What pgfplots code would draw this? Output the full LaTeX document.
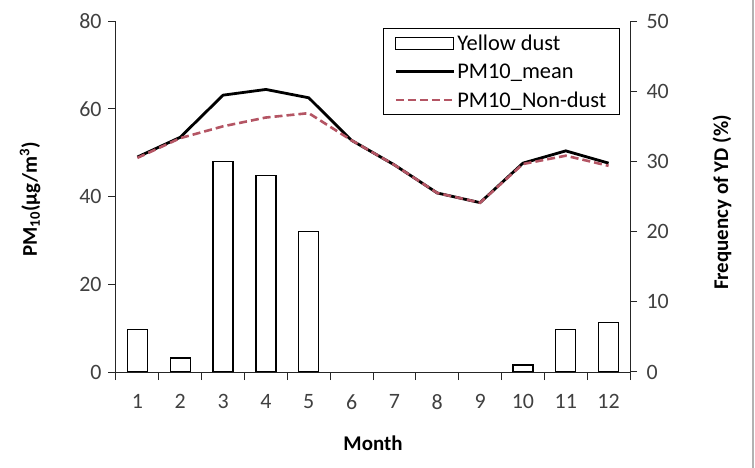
\documentclass[border=0pt]{standalone}
\usepackage{pgfplots}
\pgfplotsset{compat=1.18}
\usepackage{fontspec}
\setmainfont{Carlito}
\definecolor{tickgray}{HTML}{404040}
\definecolor{dustred}{RGB}{180,85,100}
\pgfplotsset{
  longline/.style={legend image code/.code={\draw[##1] (0bp,0bp) -- (58bp,0bp);}},
}
\begin{document}
\begin{tikzpicture}
\useasboundingbox (-116bp,-96bp) rectangle (639bp,372bp);
% bars: right axis
\begin{axis}[
  scale only axis, width=514bp, height=351bp,
  xmin=0.5, xmax=12.5, ymin=0, ymax=50,
  axis x line=none, axis y line*=right,
  ytick={0,10,...,50},
  tick align=outside, major tick length=7bp,
  every tick/.style={black!85, line width=1bp},
  axis line style={black!85, line width=1bp},
  yticklabel style={font=\fontsize{22}{24}\selectfont, color=tickgray, xshift=6bp},
  /pgf/number format/assume math mode=true,
  ylabel={\bfseries Frequency of YD (\%)},
  every axis y label/.style={at={(rel axis cs:1,0.5)}, xshift=92bp, yshift=-6bp, rotate=90, anchor=center, font=\fontsize{21}{24}\selectfont},
]
\addplot[ybar, bar width=20bp, draw=black, fill=white, line width=1.2bp]
  coordinates {(1,6) (2,2) (3,30) (4,28) (5,20) (10,1) (11,6) (12,7)};
\end{axis}
% lines: left axis
\begin{axis}[
  scale only axis, width=514bp, height=351bp,
  xmin=0.5, xmax=12.5, ymin=0, ymax=80,
  axis x line*=bottom, axis y line*=left,
  ytick={0,20,...,80},
  xtick={0.5,1.5,...,12.5},
  xticklabels={1,2,3,4,5,6,7,8,9,10,11,12,{}},
  xticklabel style={xshift=21.42bp, yshift=-11bp, font=\fontsize{22}{24}\selectfont, color=tickgray},
  tick align=outside, major tick length=8bp,
  every tick/.style={black!85, line width=1bp},
  axis line style={black!85, line width=1bp},
  yticklabel style={font=\fontsize{22}{24}\selectfont, color=tickgray, xshift=-3bp},
  /pgf/number format/assume math mode=true,
  xlabel={\bfseries Month},
  every axis x label/.style={at={(rel axis cs:0.5,0)}, yshift=-71bp, anchor=center, font=\fontsize{21}{24}\selectfont},
  ylabel={\bfseries PM\textsubscript{10}(µg/m\textsuperscript{3})},
  every axis y label/.style={at={(rel axis cs:0,0.5)}, xshift=-86bp, yshift=-3bp, rotate=90, anchor=center, font=\fontsize{21}{24}\selectfont},
  legend style={at={(rel axis cs:1,1)}, anchor=north east, xshift=-10bp, yshift=-7bp,
    draw=black, line width=1bp, inner xsep=11bp, inner ysep=4bp,
    font=\fontsize{22.5}{24}\selectfont, row sep=8bp,
    nodes={inner sep=2bp}},
  legend cell align=left,
]
\addlegendimage{legend image code/.code={\draw[black, line width=1bp, fill=white] (0bp,-6bp) rectangle (58bp,6bp);}}
\addlegendentry{Yellow dust}
\addplot[black, line width=2.8bp, longline]
  coordinates {(1,49) (2,53.5) (3,63.1) (4,64.4) (5,62.5) (6,52.8) (7,47.2) (8,40.8) (9,38.6) (10,47.6) (11,50.4) (12,47.6)};
\addlegendentry{PM10\_mean}
\addplot[dustred, line width=2.6bp, dash pattern=on 8bp off 4bp, longline]
  coordinates {(1,48.8) (2,53.3) (3,56) (4,58) (5,59) (6,52.8) (7,47.2) (8,40.8) (9,38.6) (10,47.4) (11,49.3) (12,47.0)};
\addlegendentry{PM10\_Non-dust}
\end{axis}
\draw[black!30, line width=1.5bp] (637bp,-96bp) -- (637bp,372bp);
\end{tikzpicture}
\end{document}
